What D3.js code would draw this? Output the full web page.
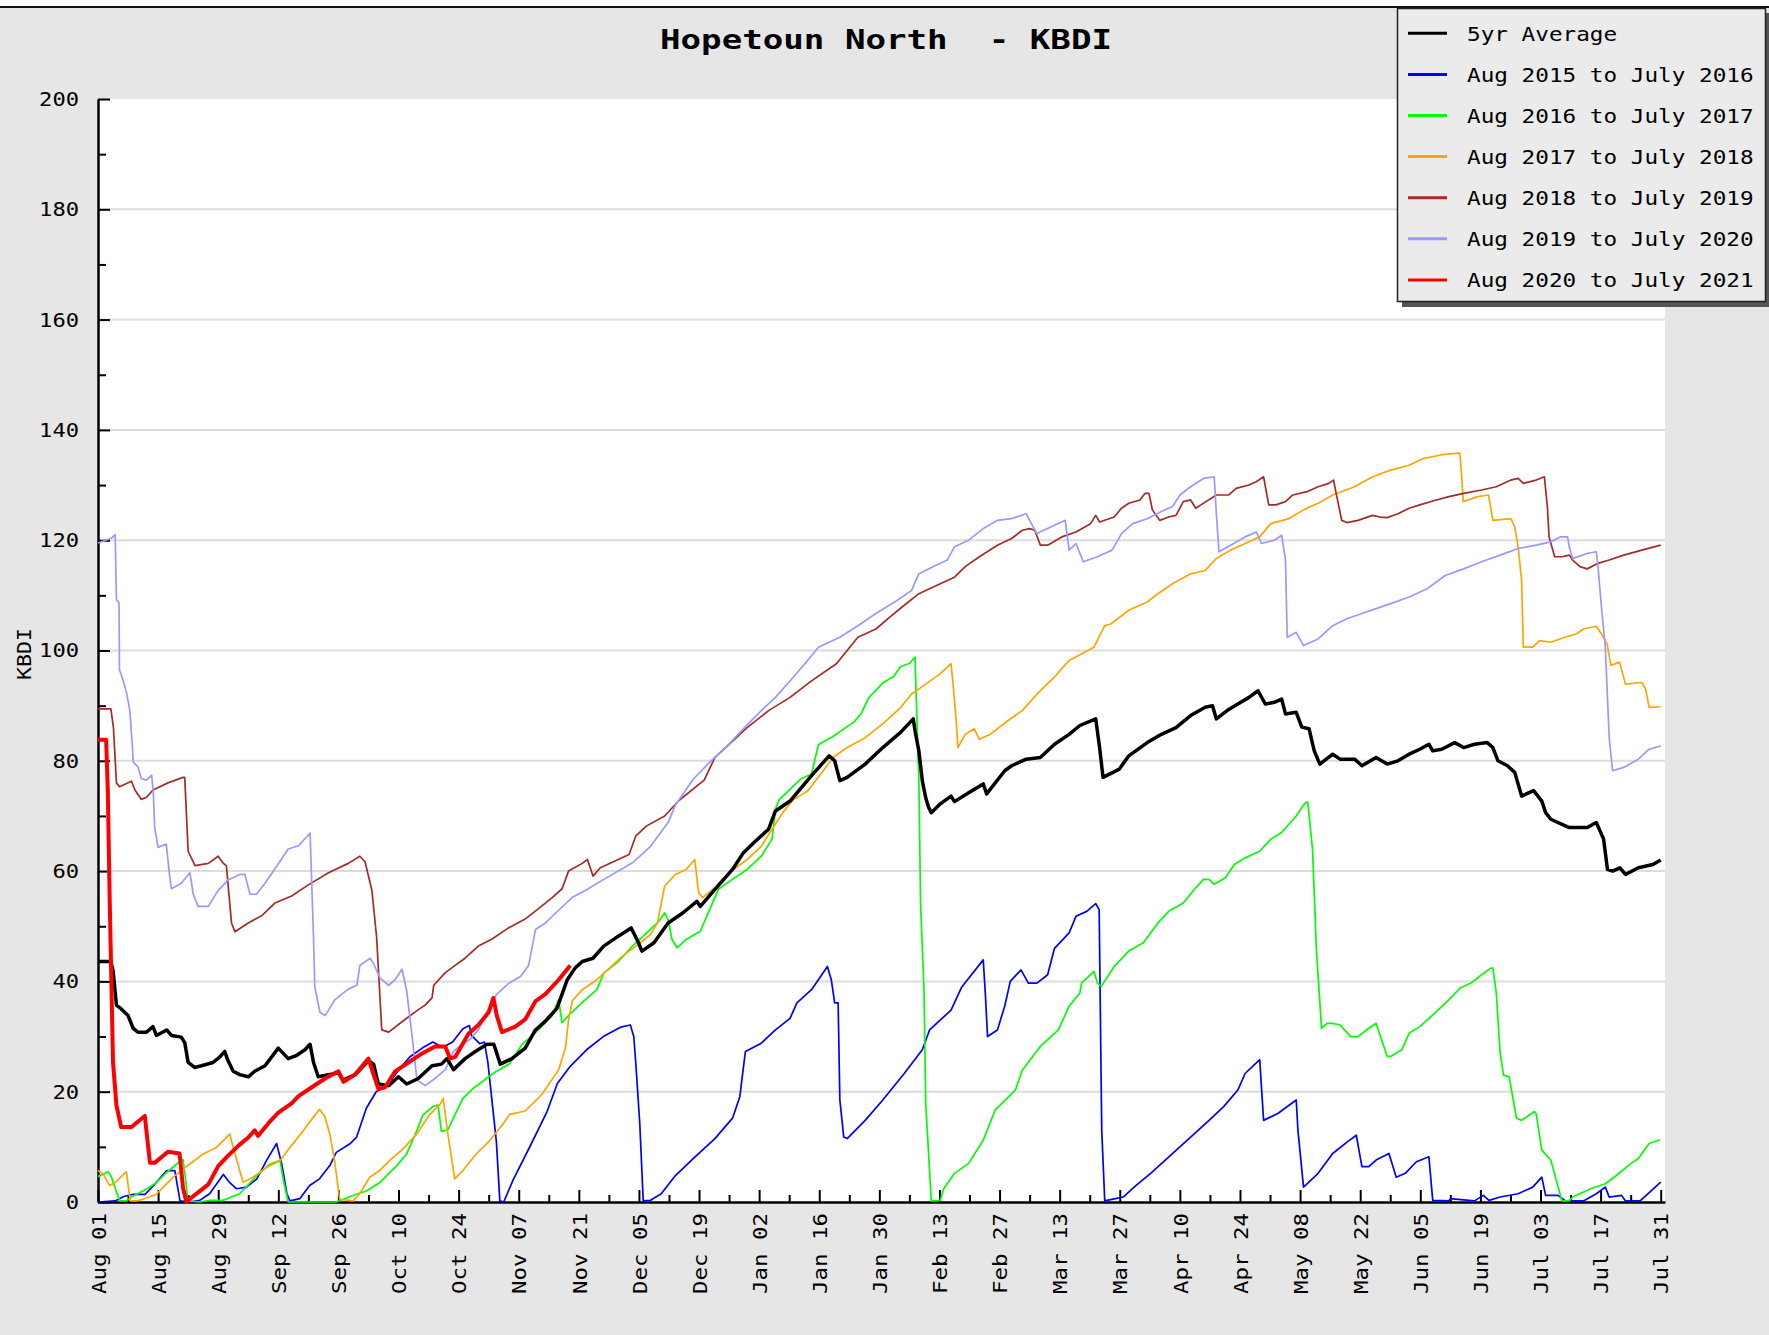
<!DOCTYPE html>
<html><head><meta charset="utf-8">
<script src="https://cdn.jsdelivr.net/npm/d3@7"></script>
<style>
body{margin:0;background:#fff}
svg{display:block}
text{font-family:"DejaVu Sans Mono","Liberation Mono",monospace;fill:#000}
</style></head>
<body><svg id="chart" width="1769" height="1335"></svg>
<script>
// ---------------- DATA ----------------
const chartTitle = "Hopetoun North  - KBDI";
const yAxisTitle = "KBDI";
const yTickValues = [0,20,40,60,80,100,120,140,160,180,200];
const xTickLabels = ["Aug 01","Aug 15","Aug 29","Sep 12","Sep 26","Oct 10","Oct 24","Nov 07","Nov 21","Dec 05","Dec 19","Jan 02","Jan 16","Jan 30","Feb 13","Feb 27","Mar 13","Mar 27","Apr 10","Apr 24","May 08","May 22","Jun 05","Jun 19","Jul 03","Jul 17","Jul 31"];
const seriesNames = ["5yr Average","Aug 2015 to July 2016","Aug 2016 to July 2017","Aug 2017 to July 2018","Aug 2018 to July 2019","Aug 2019 to July 2020","Aug 2020 to July 2021"];

// [day since Aug 01, KBDI]
const avg5yr = [[0,43.6],[3,43.6],[3.5,42],[4.3,35.7],[5.4,35],[7,33.8],[8.2,31.5],[9.3,30.8],[11.3,30.8],[12.8,31.8],[13.6,30.2],[16,31.2],[17.1,30.2],[19.4,29.9],[20.2,28.9],[21,25.3],[22.5,24.4],[24.1,24.7],[26.8,25.3],[28.4,26.3],[29.5,27.3],[30.3,25.6],[31.5,23.7],[33,23.1],[35,22.7],[36.5,23.7],[38.9,24.7],[42,27.9],[44.3,26],[46.3,26.6],[48.2,27.6],[49.4,28.6],[50.2,25.3],[51.3,22.7],[53.7,23.1],[56,23.4],[57.1,22.1],[59.9,23.1],[63,25.6],[64.2,25],[65.3,21.4],[67.7,21.1],[70,22.7],[71.9,21.4],[74.6,22.4],[77.8,24.7],[80,25],[81.3,26],[82.8,24],[85.5,26],[87.9,27.3],[90.6,28.6],[92.2,28.6],[93.7,25],[96.4,26],[99.5,27.9],[101.9,31.2],[104.2,32.8],[106.9,35.1],[109.3,40.3],[111.2,42.5],[112.8,43.6],[115.3,44.2],[117.8,46.4],[121.2,48.2],[124.2,49.7],[125.9,47],[126.7,45.5],[129.5,47],[132.8,50.6],[136.2,52.4],[139.5,54.5],[140.3,53.6],[143.7,56.7],[147.8,60.3],[150.3,63.3],[152.8,65.2],[156.2,67.6],[157.8,70.9],[161.2,72.7],[166.2,77.3],[170.3,80.9],[171.6,80],[172.8,76.4],[174.5,77],[178.7,79.4],[182.8,82.4],[187,85.2],[189.9,87.6],[190.3,85.5],[191.2,81.8],[192,76.4],[192.8,73.3],[193.5,71.5],[194.1,70.6],[196.2,72.2],[198.7,73.6],[199.5,72.6],[202.8,74.2],[206.2,75.8],[207,74],[211.2,78.2],[212.8,79.1],[216.2,80.3],[219.5,80.6],[222.8,83],[226.2,84.8],[228.7,86.4],[232.4,87.6],[233.3,82.4],[234.1,77],[237.9,78.5],[240.1,80.9],[244.4,83.3],[247.7,84.8],[251.1,86],[254.5,88.2],[257.9,89.7],[259.6,90],[260.5,87.6],[263,89.1],[265.5,90.3],[268.1,91.5],[270.2,92.7],[271.9,90.3],[274,90.6],[275.7,91.2],[276.6,88.5],[279.1,88.8],[280.4,86.1],[282.1,85.8],[283.3,81.8],[284.6,79.4],[287.6,81.2],[289.3,80.3],[292.7,80.3],[294.4,79.1],[297.7,80.6],[300.3,79.4],[302.8,80],[305.4,81.2],[307.9,82.1],[310,83],[310.9,81.8],[313,82.1],[316,83.3],[318.1,82.4],[320.6,83],[323.6,83.3],[324.9,82.4],[326.1,80],[328.3,79.1],[330,77.9],[331.6,73.6],[334.4,74.6],[336.3,72.7],[337.2,70.6],[338.4,69.4],[342.7,67.9],[346.9,67.9],[349,68.8],[350.7,65.8],[351.6,60.3],[352.8,60],[354.5,60.6],[355.8,59.4],[358.8,60.6],[362.2,61.2],[364,62]];

const y2015 = [[0,0],[4,0.2],[6,1],[8.2,1.4],[11,1.4],[13.3,3.3],[16,5.7],[17.9,5.7],[19.1,0.2],[21.4,0],[23.7,0.3],[26,1.5],[29.2,5],[30.7,3.5],[32.3,2.4],[34.6,2.7],[37,4.2],[39.3,7.6],[41.6,10.6],[42.8,6.9],[44,1.5],[44.7,0.2],[47,0.6],[49.3,3],[51.6,4.2],[54,6.6],[55.5,9],[58.6,10.5],[60.2,11.7],[62.5,17],[64.8,20],[67.5,21.2],[70.3,24.2],[72.6,26.3],[75.7,28],[78,29],[80.3,28],[82.6,29],[85,31.4],[86.5,32],[87,30.2],[88.9,28.7],[90,29],[90.8,25.4],[92.8,10.9],[93.6,0.2],[94.5,0],[96.7,4],[100.7,10.2],[104.6,16.4],[107,21.5],[110,24.6],[113.8,27.6],[117.7,30],[121.7,31.7],[124,32.1],[124.8,30],[125.3,24.8],[126.2,14.2],[127,0.2],[128.7,0.3],[131.2,1.5],[134.5,4.8],[138.7,7.9],[143.7,11.5],[147.8,15.2],[149.5,19.1],[150.8,27.3],[154.5,28.8],[157.8,31.2],[161.2,33.3],[162.8,36.1],[166.2,38.5],[167.8,40.3],[169.9,42.7],[170.8,40.3],[171.6,36.1],[172.4,36.1],[172.8,18.5],[173.7,11.8],[174.5,11.5],[178.7,14.8],[182.8,18.5],[187.8,23.3],[192,27.6],[193.7,31.2],[198.7,34.8],[201.2,39],[206.2,43.9],[206.7,37.6],[207.2,30],[209.5,31.2],[211.2,35.5],[212.5,40],[215,42.1],[216.7,39.7],[218.7,39.7],[221.2,41.2],[222.8,46],[226.2,48.8],[227.8,51.8],[230.3,52.7],[232.4,54.1],[233.2,53],[233.8,13],[234.5,0.2],[237,0.6],[238.8,0.9],[241.8,3],[245.2,5.2],[248.6,7.6],[252,10],[255.4,12.4],[258.8,14.8],[262.2,17.3],[265.5,20.3],[267.2,23.3],[270.6,25.8],[271.5,14.8],[274.9,16.1],[279.1,18.5],[279.5,13],[280.8,2.7],[284.2,5.2],[287.6,8.8],[291,10.9],[293.1,12.1],[294.4,6.4],[296,6.4],[297.7,7.6],[300.7,8.8],[302.4,4.5],[304.5,5.2],[307.1,7.3],[310,8.2],[310.9,0.3],[314.7,0.2],[315,0.6],[320.6,0.2],[322.7,1.2],[324,0.3],[326.6,0.9],[330.8,1.5],[334.2,2.7],[336.3,4.5],[337.2,1.2],[340.1,1.2],[341.8,0.2],[346,0.2],[349,1.5],[351.1,2.7],[352,0.9],[354.9,1.2],[355.8,0.2],[359.2,0.2],[364,3.6]];

const y2016 = [[0,4.6],[2.4,5.5],[3.1,4.6],[4.3,1.8],[5.1,0.2],[6.6,0.2],[8.2,1.1],[10.5,2],[13.6,3.5],[15.9,5.3],[18.2,6.8],[19.8,7.7],[20.5,3.5],[20.9,0.2],[23.7,0],[26,0.3],[29.1,0.3],[33,1.5],[37,4.8],[40.1,6.9],[42.4,7.5],[43.2,3.9],[44.3,0],[55.5,0],[60.2,1.4],[62.5,2],[65.6,3.5],[69.5,6.5],[71.8,8.6],[74.2,12.8],[75.7,15.8],[78,17.3],[79.2,17.6],[80,12.8],[81.5,13.1],[83.5,16.4],[85,18.8],[87.4,20.6],[90.5,22.4],[92,23.3],[95.9,25.1],[98.8,28.6],[102.6,31.2],[105.8,33.8],[107.3,36.7],[108.1,32.5],[109.6,33.8],[112.8,36.2],[116.2,38.5],[117.8,41.5],[121.2,43.6],[124.5,46.4],[127.8,48.8],[130.3,50.6],[132,52.4],[132.8,51.2],[133.7,47.6],[134.9,46.1],[137,47.6],[140.3,49.1],[142.8,53.6],[144.5,56.7],[147.8,58.5],[151.2,60.3],[154.5,62.7],[157,65.8],[157.8,71.2],[158.7,73],[161.2,74.8],[163.7,76.7],[166.2,77.6],[167.8,82.9],[171.2,84.4],[174.5,86.2],[176.2,87.1],[177.8,88.6],[179.5,91.4],[182.8,94.1],[185.3,95.3],[187,97.1],[189.1,97.7],[190.3,98.8],[191.2,76.7],[191.6,54.2],[192.4,38.5],[192.8,17.9],[194.1,0.2],[196.2,0.3],[197,2.4],[199.5,5.2],[202.8,7],[206.2,11.2],[209,16.7],[213.7,20.3],[215.3,23.9],[219.5,28.2],[223.7,31.2],[226.2,35.5],[228.7,37.9],[229.1,39.7],[232,41.8],[232.8,39.7],[233.7,39.1],[236.7,42.7],[240.1,45.5],[243.5,47],[246.9,50.6],[249.4,52.7],[252.8,54.2],[255.4,56.7],[257.5,58.5],[258.8,58.5],[260,57.6],[262.6,58.8],[264.7,61.2],[267.2,62.4],[270.6,63.6],[273.2,65.8],[275.7,67],[279.1,70],[281.2,72.4],[281.8,72.5],[282.9,63.9],[283.8,45.8],[285,31.5],[286.3,32.4],[287.6,32.4],[289.3,32.1],[291.8,30],[293.5,30],[296,31.5],[297.7,32.4],[300.3,26.4],[301.1,26.4],[303.7,27.6],[305.4,30.6],[307.9,31.8],[311.3,34.2],[314.7,36.7],[317.3,38.8],[319.8,39.7],[322.3,41.2],[324.4,42.4],[324.9,42.4],[325.7,37.9],[326.6,27],[327.4,23],[328.7,22.7],[330.4,15.2],[331.6,14.8],[334.6,16.4],[335,16],[336.3,9.4],[338.4,7.6],[341,0.2],[342.7,0.2],[343.5,0.9],[347.7,2.4],[351.1,3.3],[353.7,4.8],[357.1,7],[358.8,7.9],[361.3,10.6],[363.8,11.3]];

const y2017 = [[0,5.7],[1.2,5.1],[2.7,3],[4,3.5],[6.6,5.5],[7.5,0.2],[9,0.2],[10.5,0.5],[13.6,1.4],[15.1,2.6],[17.5,4.5],[21.4,6.9],[24.5,8.7],[27.6,9.9],[30.7,12.3],[31.5,9.9],[33,5.7],[33.8,3.6],[36.1,4.5],[39.3,6.3],[42.4,7.5],[44.7,9.9],[47.8,12.9],[50.1,15.3],[51.6,16.8],[52.8,15.6],[54,12.3],[55.1,7.5],[56.3,0.5],[59.4,0.2],[60.9,1.4],[63.3,4.5],[65.6,5.7],[67.9,7.5],[71,9.6],[74.2,12.3],[77.3,15.9],[79.6,17.6],[80.4,18.8],[81.5,12.3],[83.1,4.2],[85,5.7],[88.1,8.7],[91.2,11.1],[94.3,14.1],[95.9,15.9],[99.5,16.5],[103.4,19.5],[107.3,24],[108.9,28],[109.6,33],[110.5,36.5],[112.8,38.5],[116.2,40.3],[118.7,42.1],[122,44.5],[125.3,46.4],[128.7,48.5],[130.3,50.6],[132,57.3],[134.5,59.4],[137,60.3],[139,62.1],[139.9,56.1],[140.8,55.2],[143.7,57],[147,59.7],[151.2,62.1],[154.5,64.5],[157,67.6],[159.5,70.6],[162,73],[165.3,74.5],[169.5,78.8],[171.2,80.6],[174.5,82.4],[178.7,84.2],[182.8,86.7],[187,89.7],[189.5,92.1],[192.8,93.9],[196.2,95.8],[198.7,97.6],[199.1,94.5],[199.9,87.3],[200.3,82.4],[202,84.8],[204.1,85.8],[205.3,83.9],[207.8,84.8],[212,87.3],[215.3,89.1],[218.7,92.1],[222.8,95.2],[226.2,98.2],[232,100.6],[234.5,104.5],[235.9,104.8],[240.1,107.3],[244.4,108.8],[246.9,110.3],[250.3,112.1],[254.5,113.9],[257.9,114.5],[260.5,116.7],[263.8,118.2],[267.2,119.4],[270.6,120.6],[273.2,123],[277.4,123.9],[280.8,125.5],[284.2,126.7],[287.6,128.2],[292.7,129.7],[296.9,131.5],[301.1,132.7],[305.4,133.6],[308.7,134.8],[313,135.5],[317.2,135.8],[317.6,132.1],[318,127],[321.4,127.9],[323.9,128.2],[324.9,123.6],[329.1,123.9],[330,122.4],[330.8,118.8],[331.6,112.7],[332,100.6],[334.2,100.6],[335.8,101.8],[338.4,101.5],[341.7,102.4],[344.3,103],[346,103.9],[349,104.4],[350.2,103],[351.5,101.2],[352.4,97.3],[354.4,97.9],[355.8,93.9],[359.6,94.2],[360.5,93],[361.3,89.7],[364,89.8]];

const y2018 = [[0,89.4],[3,89.4],[3.6,86],[4.3,76],[5,75.3],[7.8,76.3],[8.6,74.7],[10.1,73],[11.3,73.4],[12.8,74.7],[16.3,76],[19.8,77],[20.2,77],[21,63.6],[22.6,61],[25.7,61.4],[28,62.7],[29.2,61.4],[29.9,61],[31.1,50.6],[31.9,49],[35,50.6],[38.1,51.9],[41.2,54.2],[45.1,55.5],[49,57.5],[53.7,59.7],[58.3,61.4],[61,62.7],[62.2,61.7],[63.8,56.5],[64.9,48],[66.1,31.2],[67.7,30.8],[71.5,33.1],[74.3,34.7],[76.2,35.7],[77.8,37],[78.2,39.3],[80.9,41.6],[83.2,42.9],[85.5,44.2],[88.6,46.4],[91.8,47.7],[95.6,49.7],[99.5,51.3],[102.6,53.2],[105.8,55.2],[108.1,56.8],[109.6,60],[112.8,61.4],[114,62.1],[115.3,59.1],[117,60.6],[120.3,61.8],[123.7,63],[125.3,66.4],[127.8,68.2],[132,70],[135.3,72.8],[141.2,76.5],[143.7,80.6],[147,83],[151.2,86],[156.2,89.1],[161.2,91.5],[166.2,94.5],[172,97.6],[177,102.4],[181.2,103.9],[184.5,106.1],[187.8,108.2],[191.2,110.3],[196.2,112.1],[199.5,113.3],[202,115.2],[205.3,117],[209.5,119.1],[212.8,120.3],[215.3,121.8],[217,122.1],[218.2,121.8],[219.5,119.1],[221.2,119.1],[224.5,120.6],[227.8,121.5],[231.2,123],[232.4,124.5],[233.3,123.3],[236.7,124.2],[238.4,125.8],[240.1,126.7],[242.7,127.3],[243.9,128.5],[244.8,128.5],[245.6,125.5],[247.3,123.6],[249.4,124.2],[251.1,124.5],[252.8,127],[254.5,127.3],[255.7,125.8],[256.9,126.4],[260.5,128.2],[263.4,128.2],[265.1,129.4],[268.1,130],[269.8,130.6],[271.5,131.5],[272.7,126.4],[274.4,126.4],[276.6,127],[278.3,128.2],[281.6,128.8],[284.2,129.7],[286.7,130.3],[287.8,130.9],[288.4,128.5],[289.7,123.6],[290.9,123.2],[293.5,123.6],[296.9,124.5],[298.6,124.2],[300.3,124.1],[302.8,124.8],[305.4,125.8],[307.9,126.4],[311.3,127.2],[314.7,127.9],[318.1,128.5],[322.3,129.1],[325.7,129.7],[329.1,130.9],[330.8,131.2],[332,130.3],[335,130.9],[336.9,131.5],[337.6,126.1],[338,120.6],[339.3,117],[341,117],[342.7,117.3],[343.5,116.4],[345.2,115.2],[346.9,114.8],[349.4,115.8],[352,116.4],[355.4,117.3],[359.6,118.2],[364,119.1]];

const y2019 = [[0,119.5],[3.2,120.4],[4,121],[4.3,109.2],[4.9,108.6],[5,96.5],[5.8,94.7],[6.6,92.5],[7.4,89.2],[8,82.8],[8.2,79.8],[9.3,78.9],[10.1,76.8],[11.3,76.5],[12.5,77.4],[12.9,74],[13.2,67.9],[14,64.3],[15.9,64.9],[16.7,59.1],[17.1,56.8],[19.4,57.8],[21.4,59.7],[22.2,55.8],[23.3,53.6],[25.7,53.6],[28,56.5],[30.3,58.4],[33,59.4],[34.2,59.4],[35.4,55.8],[36.9,55.8],[38.9,57.8],[41.2,60.4],[44.3,64],[46.7,64.6],[49.4,66.9],[50.2,48],[50.5,39],[51.7,34.4],[52.9,33.8],[55.2,36.7],[58.3,38.6],[60.3,39.3],[61,42.9],[63.4,44.2],[64.2,43.2],[65.7,40.6],[67.7,39.3],[69.2,40.3],[70.8,42.2],[71.9,38.3],[73.1,30.5],[74.3,22.1],[76.2,21.1],[78.5,22.4],[80.9,24],[82.8,27.3],[84.8,28.6],[86.7,29.5],[88.6,31.2],[91,35.1],[92.9,37.7],[95.6,39.6],[98.4,40.9],[100.3,42.9],[101.9,49.4],[104.2,50.6],[107.3,52.9],[110.4,55.2],[113.5,56.5],[117.8,58.5],[124.5,61.5],[128.7,64.5],[132.8,68.8],[134.5,72],[138.7,76.7],[142.8,80],[146.2,82.4],[150.3,85.8],[154.5,89.1],[157.8,91.5],[162,95.2],[165.3,98.2],[167.8,100.6],[172.8,102.4],[177,104.5],[181.2,106.7],[186.2,109.1],[189.5,110.9],[191.2,113.9],[194.5,115.2],[197.8,116.4],[199.5,118.8],[202.8,120],[206.2,122.1],[209.5,123.6],[212.8,123.9],[216.2,124.8],[217,123.6],[218.7,121.2],[220.3,121.8],[222.8,122.7],[225.3,123.6],[226.2,118.2],[227.8,119.4],[229.5,116.1],[232.8,117],[236.2,118.2],[238.4,121.2],[241,123],[244.4,123.9],[247.7,125.2],[250.3,126.1],[252,128.2],[254.5,129.7],[257.5,131.2],[260,131.5],[260.5,124.8],[261.1,117.9],[263.8,119.1],[267.2,120.6],[269.8,121.5],[271,119.4],[274,120],[275.7,120.9],[276.6,116.4],[277,102.4],[279.1,103.3],[280.8,100.9],[284.2,102.1],[287.6,104.5],[291,105.8],[294.4,106.7],[297.7,107.6],[301.1,108.5],[305.4,109.7],[309.6,111.2],[313.8,113.6],[318.1,114.8],[322.3,116.1],[326.6,117.3],[330.8,118.5],[335,119.1],[338.4,119.7],[340.6,120.6],[342.3,120.6],[342.7,118.8],[343.5,116.7],[346.9,117.6],[349,117.9],[349.4,115.2],[350.2,107.9],[351.1,100.6],[352,84.2],[352.8,78.2],[355.4,78.8],[358.8,80.3],[361.3,82.1],[364,82.7]];

const y2020 = [[0,83.8],[1.9,83.8],[2.3,74],[2.7,55.8],[3.5,25.3],[4.3,17.5],[5.4,13.6],[7.8,13.6],[10.9,15.6],[12.1,7.1],[13.2,7.1],[16.3,9.1],[19,8.8],[19.8,2.6],[20.6,0],[22.6,1.3],[25.7,3.2],[28,6.5],[30.3,8.4],[33,10.4],[35,11.7],[36.5,13],[37.3,12],[39.7,14.3],[42,16.2],[45.1,17.9],[46.7,19.2],[49.8,20.8],[52.9,22.4],[55.2,23.4],[56,23.7],[57.2,21.8],[59.9,23.1],[63,26],[64.2,23.1],[65.3,20.5],[66.9,20.8],[69.2,23.7],[72.3,25.3],[75.4,26.9],[78.5,28.2],[80.9,28.2],[82,26],[83.2,26.3],[86.3,30.5],[88.6,32.1],[91,34.4],[92.1,37],[92.9,33.8],[94.1,30.8],[97.2,31.8],[99.5,33.1],[101.9,36.4],[104.2,37.7],[107.3,40.3],[110,42.9]];

// ---------------- DRAWING ----------------
const W = 1769, H = 1335;
const svg = d3.select("#chart");
const x = d3.scaleLinear().domain([0, 365]).range([98, 1665]);
const y = d3.scaleLinear().domain([0, 200]).range([1202, 99]);

// page background
svg.append("rect").attr("x",0).attr("y",0).attr("width",W).attr("height",H).attr("fill","#fff");
svg.append("rect").attr("x",0).attr("y",8).attr("width",W).attr("height",H-8).attr("fill","#e6e6e6");
svg.append("line").attr("x1",0).attr("x2",W).attr("y1",7).attr("y2",7).attr("stroke","#111").attr("stroke-width",2);

// plot area
svg.append("rect").attr("x",x(0)).attr("y",y(200)).attr("width",x(365)-x(0)).attr("height",y(0)-y(200)).attr("fill","#fff");

// grid
svg.append("g").selectAll("line").data(yTickValues.filter(v=>v>0 && v<200)).join("line")
  .attr("x1",x(0)).attr("x2",x(365)).attr("y1",d=>y(d)).attr("y2",d=>y(d))
  .attr("stroke","#dcdcdc").attr("stroke-width",2);

// y axis
const yMinor = d3.range(10,200,20);
const gyMinor = svg.append("g").attr("transform",`translate(${x(0)},0)`)
  .call(d3.axisLeft(y).tickValues(yMinor).tickSize(-8).tickFormat(""));
gyMinor.select(".domain").remove();
gyMinor.selectAll("line").attr("stroke","#000").attr("stroke-width",2);

const gy = svg.append("g").attr("transform",`translate(${x(0)},0)`)
  .call(d3.axisLeft(y).tickValues(yTickValues).tickSize(-12).tickSizeOuter(0).tickPadding(19).tickFormat(d=>String(d)));
gy.select(".domain").attr("stroke","#000").attr("stroke-width",2.5);
gy.selectAll(".tick line").attr("stroke","#000").attr("stroke-width",2);
gy.selectAll(".tick text").attr("font-size",20).attr("font-family",null)
  .attr("textLength",function(){return this.textContent.length*13.3;})
  .attr("lengthAdjust","spacingAndGlyphs");

// x axis
const xMajor = xTickLabels.map((_,i)=>i*14);
const xMinor = xMajor.slice(0,-1).map(d=>d+7);
const gxMinor = svg.append("g").attr("transform",`translate(0,${y(0)})`)
  .call(d3.axisBottom(x).tickValues(xMinor).tickSize(-7).tickFormat(""));
gxMinor.select(".domain").remove();
gxMinor.selectAll("line").attr("stroke","#000").attr("stroke-width",2);

const gx = svg.append("g").attr("transform",`translate(0,${y(0)})`)
  .call(d3.axisBottom(x).tickValues(xMajor).tickSize(-12).tickSizeOuter(0).tickPadding(11)
    .tickFormat((d,i)=>xTickLabels[i]));
gx.select(".domain").attr("stroke","#000").attr("stroke-width",2.5);
gx.selectAll(".tick line").attr("stroke","#000").attr("stroke-width",2);
gx.selectAll(".tick text")
  .attr("font-size",20)
  .attr("transform","rotate(-90)")
  .attr("x",-11).attr("y",0).attr("dy","0.36em")
  .attr("text-anchor","end")
  .attr("textLength",function(){return this.textContent.length*13.5;})
  .attr("lengthAdjust","spacingAndGlyphs");

// series
const line = d3.line().x(d=>x(d[0])).y(d=>y(d[1]));
const series = [
  {data:y2015, color:"#0000ff", w:1.7},
  {data:y2016, color:"#00ff00", w:1.7},
  {data:y2017, color:"#ffa500", w:1.7},
  {data:y2018, color:"#a52a2a", w:1.7},
  {data:y2019, color:"#9999ff", w:1.7},
  {data:avg5yr, color:"#000000", w:3.5},
  {data:y2020, color:"#ff0000", w:4}
];
svg.append("g").selectAll("path").data(series).join("path")
  .attr("d",d=>line(d.data)).attr("fill","none")
  .attr("stroke",d=>d.color).attr("stroke-width",d=>d.w)
  .attr("stroke-linejoin","round");

// title
svg.append("text").attr("x",886).attr("y",49).attr("text-anchor","middle")
  .attr("font-size",27).attr("font-weight","bold")
  .attr("textLength",452).attr("lengthAdjust","spacingAndGlyphs")
  .style("white-space","pre").text(chartTitle);

// y axis title
svg.append("text").attr("transform","translate(31,654) rotate(-90)")
  .attr("text-anchor","middle").attr("font-size",19)
  .attr("textLength",52).attr("lengthAdjust","spacingAndGlyphs")
  .text(yAxisTitle);

// legend
const legendColors = ["#000000","#0000ff","#00ff00","#ffa500","#a52a2a","#9999ff","#ff0000"];
const lg = svg.append("g");
lg.append("rect").attr("x",1402).attr("y",13).attr("width",368).attr("height",294).attr("fill","#555");
lg.append("rect").attr("x",1397.5).attr("y",8.5).attr("width",368).attr("height",293).attr("fill","#ebebeb").attr("stroke","#222").attr("stroke-width",1.5);
const items = lg.selectAll("g.item").data(seriesNames).join("g").attr("class","item")
  .attr("transform",(d,i)=>`translate(0,${33.3 + i*41.1})`);
items.append("line").attr("x1",1408).attr("x2",1447).attr("y1",0).attr("y2",0)
  .attr("stroke",(d,i)=>legendColors[i]).attr("stroke-width",3);
items.append("text").attr("x",1467).attr("y",0).attr("dy","0.36em").attr("font-size",20)
  .attr("textLength",d=>d.length*13.65).attr("lengthAdjust","spacingAndGlyphs")
  .style("white-space","pre").text(d=>d);
</script></body></html>
